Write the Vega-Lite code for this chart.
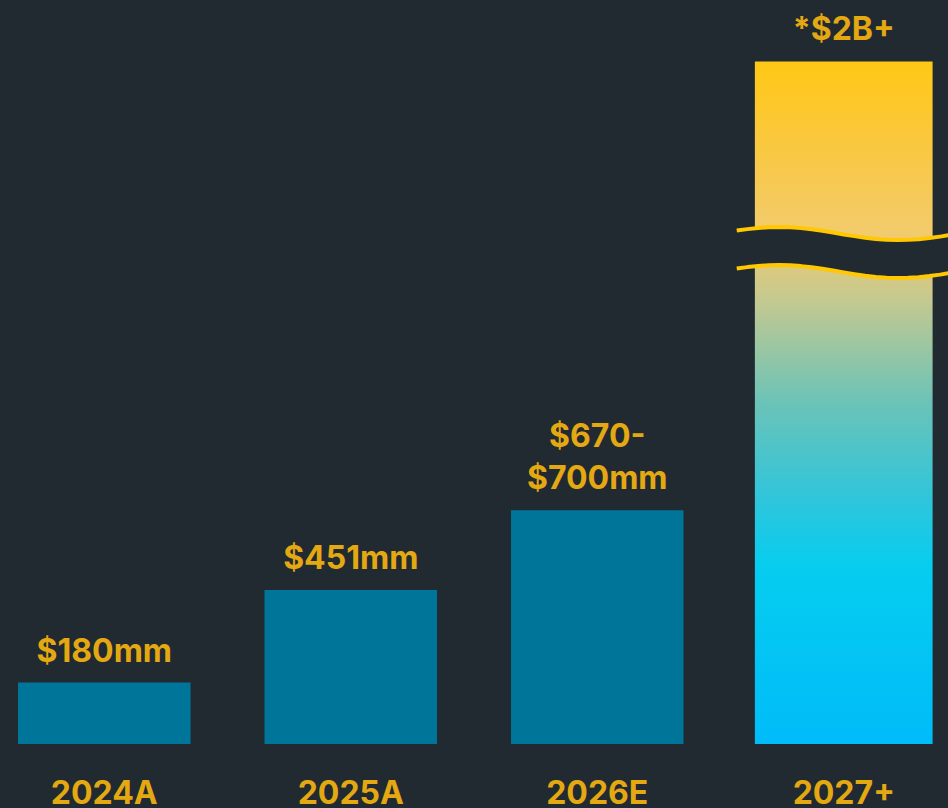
{
  "$schema": "https://vega.github.io/schema/vega-lite/v6.json",
  "width": 948,
  "height": 744,
  "autosize": {"type": "none"},
  "padding": {"left": 0, "top": 0, "right": 0, "bottom": 64},
  "background": "#212a31",
  "config": {"view": {"stroke": null}, "font": "Inter"},
  "data": {
    "values": [
      {"period": "2024A", "revenue": 180, "label": "$180mm"},
      {"period": "2025A", "revenue": 451, "label": "$451mm"},
      {"period": "2026E", "revenue": 685, "label": "$670-\n$700mm"},
      {"period": "2027+", "revenue": 2000, "label": "*$2B+", "axisBreak": 1440}
    ]
  },
  "encoding": {
    "x": {
      "field": "period",
      "type": "nominal",
      "sort": null,
      "scale": {"paddingInner": 0.3, "paddingOuter": 0.073},
      "axis": {
        "title": null,
        "domain": false,
        "ticks": false,
        "tickSize": 0,
        "grid": false,
        "labelAngle": 0,
        "labelFont": "Inter",
        "labelFontSize": 32,
        "labelFontWeight": "bold",
        "labelColor": "#e3a812",
        "labelBaseline": "alphabetic",
        "labelPadding": 59
      }
    },
    "y": {
      "field": "revenue",
      "type": "quantitative",
      "scale": {"domain": [0, 2180]},
      "axis": null
    }
  },
  "layer": [
    {
      "transform": [{"filter": "datum.period !== '2027+'"}],
      "mark": {"type": "bar", "color": "#00759a", "opacity": 1}
    },
    {
      "transform": [{"filter": "datum.period === '2027+'"}],
      "mark": {
        "type": "bar",
        "opacity": 1,
        "width": {"band": 1.03},
        "color": {
          "gradient": "linear",
          "x1": 0, "y1": 0, "x2": 0, "y2": 1,
          "stops": [
            {"offset": 0, "color": "#ffc815"},
            {"offset": 0.13, "color": "#f9c842"},
            {"offset": 0.25, "color": "#f2cb6c"},
            {"offset": 0.34, "color": "#cac98d"},
            {"offset": 0.5, "color": "#6bc3b8"},
            {"offset": 0.64, "color": "#30c5db"},
            {"offset": 0.74, "color": "#06cdef"},
            {"offset": 1, "color": "#00bbf9"}
          ]
        }
      }
    },
    {
      "transform": [{"filter": "isValid(datum.axisBreak)"}],
      "mark": {
        "type": "point",
        "shape": "M -1 -0.2051 L -0.9 -0.2190 L -0.8 -0.2297 L -0.7 -0.2363 L -0.6 -0.2383 L -0.5 -0.2356 L -0.4 -0.2283 L -0.3 -0.2171 L -0.2 -0.2028 L -0.1 -0.1866 L 0 -0.1696 L 0.1 -0.1533 L 0.2 -0.1389 L 0.3 -0.1274 L 0.4 -0.1198 L 0.5 -0.1169 L 0.6 -0.1186 L 0.7 -0.1249 L 0.8 -0.1353 L 0.9 -0.1490 L 1 -0.1649 L 1 0.1902 L 0.9 0.2062 L 0.8 0.2198 L 0.7 0.2302 L 0.6 0.2366 L 0.5 0.2383 L 0.4 0.2353 L 0.3 0.2277 L 0.2 0.2163 L 0.1 0.2019 L 0 0.1855 L -0.1 0.1685 L -0.2 0.1523 L -0.3 0.1380 L -0.4 0.1268 L -0.5 0.1196 L -0.6 0.1168 L -0.7 0.1189 L -0.8 0.1254 L -0.9 0.1361 L -1 0.1500 Z",
        "size": 45796,
        "filled": true,
        "fill": "#212a31",
        "strokeWidth": 0,
        "opacity": 1
      },
      "encoding": {"y": {"field": "axisBreak", "type": "quantitative"}}
    },
    {
      "transform": [{"filter": "isValid(datum.axisBreak)"}],
      "mark": {
        "type": "point",
        "shape": "M -1 -0.2051 L -0.9 -0.2190 L -0.8 -0.2297 L -0.7 -0.2363 L -0.6 -0.2383 L -0.5 -0.2356 L -0.4 -0.2283 L -0.3 -0.2171 L -0.2 -0.2028 L -0.1 -0.1866 L 0 -0.1696 L 0.1 -0.1533 L 0.2 -0.1389 L 0.3 -0.1274 L 0.4 -0.1198 L 0.5 -0.1169 L 0.6 -0.1186 L 0.7 -0.1249 L 0.8 -0.1353 L 0.9 -0.1490 L 1 -0.1649 M -1 0.1500 L -0.9 0.1361 L -0.8 0.1254 L -0.7 0.1189 L -0.6 0.1168 L -0.5 0.1196 L -0.4 0.1268 L -0.3 0.1380 L -0.2 0.1523 L -0.1 0.1685 L 0 0.1855 L 0.1 0.2019 L 0.2 0.2163 L 0.3 0.2277 L 0.4 0.2353 L 0.5 0.2383 L 0.6 0.2366 L 0.7 0.2302 L 0.8 0.2198 L 0.9 0.2062 L 1 0.1902",
        "size": 45796,
        "filled": false,
        "fill": null,
        "stroke": "#ffc800",
        "strokeWidth": 4,
        "strokeJoin": "round",
        "opacity": 1
      },
      "encoding": {"y": {"field": "axisBreak", "type": "quantitative"}}
    },
    {
      "transform": [{"filter": "indexof(datum.label, '\\n') < 0"}],
      "mark": {
        "type": "text",
        "align": "center",
        "baseline": "alphabetic",
        "dy": -21,
        "font": "Inter",
        "fontSize": 32,
        "fontWeight": "bold",
        "color": "#e3a812"
      },
      "encoding": {"text": {"field": "label", "type": "nominal"}}
    },
    {
      "transform": [{"filter": "indexof(datum.label, '\\n') >= 0"}],
      "mark": {
        "type": "text",
        "align": "center",
        "baseline": "alphabetic",
        "dy": -63,
        "font": "Inter",
        "fontSize": 32,
        "fontWeight": "bold",
        "color": "#e3a812",
        "lineBreak": "\n",
        "lineHeight": 42
      },
      "encoding": {"text": {"field": "label", "type": "nominal"}}
    }
  ]
}
